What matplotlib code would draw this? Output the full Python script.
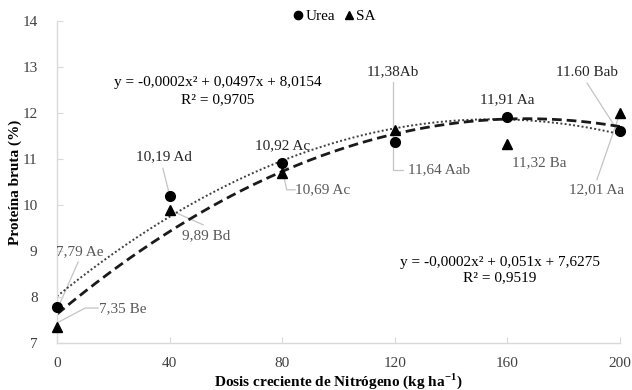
import numpy as np
import matplotlib
matplotlib.use("Agg")
import matplotlib.pyplot as plt

plt.rcParams['font.family'] = ['Liberation Serif', 'DejaVu Serif']
plt.rcParams['mathtext.fontset'] = 'custom'
plt.rcParams['mathtext.rm'] = 'Liberation Serif'
plt.rcParams['mathtext.bf'] = 'Liberation Serif:bold'

doses = [0, 40, 80, 120, 160, 200]
urea = [7.79, 10.19, 10.92, 11.38, 11.91, 11.60]
sa = [7.35, 9.89, 10.69, 11.64, 11.32, 12.01]
x_ticks = [0, 40, 80, 120, 160, 200]
y_ticks = [7, 8, 9, 10, 11, 12, 13, 14]

# data labels: text, label x, label y, colour
label_text = ["7,79 Ae", "7,35 Be", "10,19 Ad", "9,89 Bd", "10,92 Ac", "10,69 Ac",
              "11,38Ab", "11,64 Aab", "11,91 Aa", "11,32 Ba", "11.60 Bab", "12,01 Aa"]
label_x = [8.2, 23.5, 38.0, 52.8, 80.0, 94.5, 119.4, 135.8, 159.9, 171.2, 188.3, 191.8]
label_y = [8.98, 7.74, 11.04, 9.33, 11.30, 10.33, 12.89, 10.76, 12.30, 10.91, 12.89, 10.33]
label_col = ['#595959', '#595959', '#262626', '#595959', '#262626', '#595959',
             '#262626', '#595959', '#262626', '#595959', '#262626', '#595959']

# leader lines (polyline vertices in data units)
leaders = [
    ([7.5, 1.1], [8.76, 7.87]),
    ([14.6, 10.0, 0.7], [7.76, 7.76, 7.46]),
    ([37.6, 39.8], [10.80, 10.26]),
    ([42.3, 51.9], [9.83, 9.57]),
    ([80.6, 81.6, 84.6], [10.62, 10.33, 10.33]),
    ([119.4, 119.4], [12.67, 11.40]),
    ([119.4, 119.4, 122.9], [11.64, 10.76, 10.76]),
    ([188.3, 199.0], [12.65, 11.63]),
    ([191.8, 200.0], [10.55, 12.0]),
]

fig = plt.figure(figsize=(6.32, 3.90), dpi=100)
ax = fig.add_axes([57/632, 1-343/390, (620-57)/632, (343-21)/390])

for lx, ly in leaders:
    ax.plot(lx, ly, color='#c4c4c4', lw=0.9, zorder=1, clip_on=False)

xs = np.linspace(0, 200, 200)
cu = np.polyfit(doses, urea, 2)
cs = np.polyfit(doses, sa, 2)
ax.plot(xs, np.polyval(cu, xs), color='#404040', lw=1.4, ls=(0, (1, 1.2)), zorder=2)
ax.plot(xs, np.polyval(cs, xs), color='#1a1a1a', lw=2.0, ls=(0, (3.5, 1.8)), zorder=2)

ax.plot(doses, urea, 'o', color='black', ms=7, label='Urea', zorder=3, clip_on=False)
ax.plot(doses, sa, '^', color='black', ms=7, label='SA', zorder=3, clip_on=False)

for t, lx, ly, c in zip(label_text, label_x, label_y, label_col):
    ax.text(lx, ly, t, ha='center', va='center', fontsize=11, color=c)

ax.text(57.2, 12.67, "y = -0,0002x² + 0,0497x + 8,0154", ha='center', va='center', fontsize=11)
ax.text(57.2, 12.30, "R² = 0,9705", ha='center', va='center', fontsize=11)
ax.text(157.4, 8.76, "y = -0,0002x² + 0,051x + 7,6275", ha='center', va='center', fontsize=11)
ax.text(157.4, 8.41, "R² = 0,9519", ha='center', va='center', fontsize=11)

ax.set_xlim(0, 200)
ax.set_ylim(7, 14)
ax.set_xticks(x_ticks)
ax.set_yticks(y_ticks)
for s in ['top', 'right']:
    ax.spines[s].set_visible(False)
for s in ['left', 'bottom']:
    ax.spines[s].set_color('#d9d9d9')
    ax.spines[s].set_linewidth(1.0)
ax.tick_params(direction='in', length=4, color='#d9d9d9', labelsize=11, labelcolor='#404040')
ax.tick_params(axis='x', pad=10)
ax.tick_params(axis='y', pad=14)

fig.text(338/632, 1-381/390, r"Dosis creciente de Nitrógeno (kg ha$^{\mathbf{-1}}$)",
         ha='center', va='center', fontsize=11, fontweight='bold')
fig.text(15/632, 1-182/390, "Proteína bruta (%)", rotation=90,
         ha='center', va='center', fontsize=11, fontweight='bold')

fig.legend(loc='center', bbox_to_anchor=(333/632, 1-16/390), ncol=2, frameon=False,
           fontsize=11, handletextpad=0.0, columnspacing=0.4, handlelength=1.0,
           markerscale=0.85)

fig.savefig("out.png", dpi=100)
